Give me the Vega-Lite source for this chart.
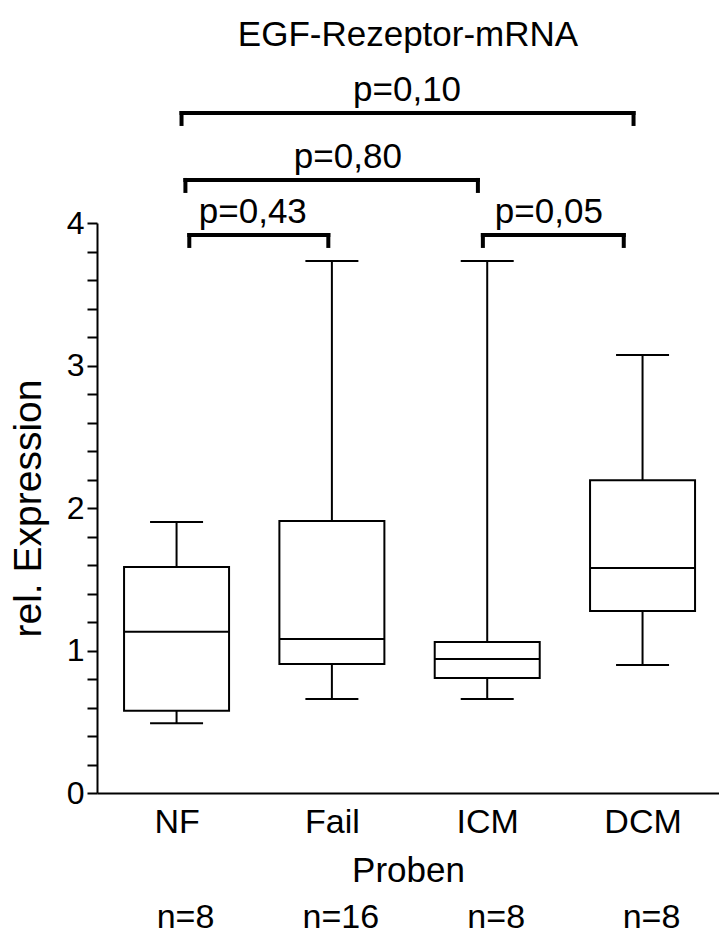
{
  "$schema": "https://vega.github.io/schema/vega-lite/v6.json",
  "width": 622,
  "height": 570,
  "autosize": {"type": "none"},
  "padding": {"left": 97, "top": 223, "right": 0, "bottom": 143},
  "background": "white",
  "config": {
    "font": "Liberation Sans",
    "view": {"stroke": null},
    "axis": {"grid": false, "labelOverlap": false, "labelColor": "black", "titleColor": "black", "domainColor": "black", "tickColor": "black", "labelFont": "Liberation Sans", "titleFont": "Liberation Sans", "titleFontWeight": "normal"}
  },
  "title": {"text": "EGF-Rezeptor-mRNA", "fontSize": 35, "fontWeight": "normal", "font": "Liberation Sans", "color": "black", "anchor": "middle", "offset": 20},
  "datasets": {
    "boxes": [
      {"group": "NF", "pos": 1, "n": "n=8", "min": 0.49, "q1": 0.578, "median": 1.132, "q3": 1.586, "max": 1.902},
      {"group": "Fail", "pos": 2, "n": "n=16", "min": 0.66, "q1": 0.905, "median": 1.081, "q3": 1.909, "max": 3.733},
      {"group": "ICM", "pos": 3, "n": "n=8", "min": 0.66, "q1": 0.807, "median": 0.94, "q3": 1.06, "max": 3.733},
      {"group": "DCM", "pos": 4, "n": "n=8", "min": 0.898, "q1": 1.277, "median": 1.579, "q3": 2.194, "max": 3.074}
    ],
    "brackets": [
      {"label": "p=0,10", "from": 1.032, "to": 3.942, "level": 4.772, "tip": 4.695, "mid": 2.484, "textY": 4.856},
      {"label": "p=0,80", "from": 1.057, "to": 2.94, "level": 4.302, "tip": 4.225, "mid": 2.103, "textY": 4.386},
      {"label": "p=0,43", "from": 1.082, "to": 1.977, "level": 3.916, "tip": 3.839, "mid": 1.491, "textY": 4.0},
      {"label": "p=0,05", "from": 2.972, "to": 3.879, "level": 3.916, "tip": 3.839, "mid": 3.397, "textY": 4.0}
    ]
  },
  "layer": [
    {
      "data": {"name": "boxes"},
      "mark": {"type": "rule", "color": "black", "strokeWidth": 2},
      "encoding": {
        "x": {"field": "pos", "type": "quantitative", "title": "Proben",
          "scale": {"domain": [0.52, 4.46], "nice": false, "zero": false},
          "axis": {"values": [1, 2, 3, 4], "tickCount": 10, "labelExpr": "['', 'NF', 'Fail', 'ICM', 'DCM'][datum.value]", "ticks": false, "domainWidth": 2, "labelFontSize": 34, "labelPadding": 12, "titleFontSize": 35, "titlePadding": 14, "labelFlush": false, "labelOverlap": false}},
        "y": {"field": "min", "type": "quantitative", "title": "rel. Expression",
          "scale": {"domain": [0, 4], "nice": false},
          "axis": {"values": [0, 0.2, 0.4, 0.6, 0.8, 1, 1.2, 1.4, 1.6, 1.8, 2, 2.2, 2.4, 2.6, 2.8, 3, 3.2, 3.4, 3.6, 3.8, 4], "tickCount": 40, "labelExpr": "datum.value % 1 == 0 ? format(datum.value, 'd') : ''", "labelOverlap": false, "labelFlush": false, "tickSize": 10, "tickWidth": 2, "domainWidth": 2, "labelFontSize": 32, "labelPadding": 3, "titleFontSize": 39, "titlePadding": 18}},
        "y2": {"field": "max"}
      }
    },
    {
      "data": {"name": "boxes"},
      "mark": {"type": "bar", "fill": "white", "stroke": "black", "strokeWidth": 2, "size": 105},
      "encoding": {
        "x": {"field": "pos", "type": "quantitative", "title": "Proben"},
        "y": {"field": "q1", "type": "quantitative", "title": "rel. Expression"},
        "y2": {"field": "q3"}
      }
    },
    {
      "data": {"name": "boxes"},
      "mark": {"type": "tick", "orient": "horizontal", "color": "black", "size": 105, "thickness": 2, "opacity": 1},
      "encoding": {
        "x": {"field": "pos", "type": "quantitative", "title": "Proben"},
        "y": {"field": "median", "type": "quantitative", "title": "rel. Expression"}
      }
    },
    {
      "data": {"name": "boxes"},
      "mark": {"type": "tick", "orient": "horizontal", "color": "black", "size": 53, "thickness": 2, "opacity": 1},
      "encoding": {
        "x": {"field": "pos", "type": "quantitative", "title": "Proben"},
        "y": {"field": "min", "type": "quantitative", "title": "rel. Expression"}
      }
    },
    {
      "data": {"name": "boxes"},
      "mark": {"type": "tick", "orient": "horizontal", "color": "black", "size": 53, "thickness": 2, "opacity": 1},
      "encoding": {
        "x": {"field": "pos", "type": "quantitative", "title": "Proben"},
        "y": {"field": "max", "type": "quantitative", "title": "rel. Expression"}
      }
    },
    {
      "data": {"name": "boxes"},
      "transform": [{"calculate": "-0.95", "as": "nY"}],
      "mark": {"type": "text", "fontSize": 34, "baseline": "alphabetic", "align": "center", "color": "black", "dx": 9},
      "encoding": {
        "x": {"field": "pos", "type": "quantitative", "title": "Proben"},
        "y": {"field": "nY", "type": "quantitative", "title": "rel. Expression"},
        "text": {"field": "n"}
      }
    },
    {
      "data": {"name": "brackets"},
      "mark": {"type": "rule", "color": "black", "strokeWidth": 4, "strokeCap": "square"},
      "encoding": {
        "x": {"field": "from", "type": "quantitative", "title": "Proben"},
        "x2": {"field": "to"},
        "y": {"field": "level", "type": "quantitative", "title": "rel. Expression"}
      }
    },
    {
      "data": {"name": "brackets"},
      "mark": {"type": "rule", "color": "black", "strokeWidth": 4, "strokeCap": "square"},
      "encoding": {
        "x": {"field": "from", "type": "quantitative", "title": "Proben"},
        "y": {"field": "level", "type": "quantitative", "title": "rel. Expression"},
        "y2": {"field": "tip"}
      }
    },
    {
      "data": {"name": "brackets"},
      "mark": {"type": "rule", "color": "black", "strokeWidth": 4, "strokeCap": "square"},
      "encoding": {
        "x": {"field": "to", "type": "quantitative", "title": "Proben"},
        "y": {"field": "level", "type": "quantitative", "title": "rel. Expression"},
        "y2": {"field": "tip"}
      }
    },
    {
      "data": {"name": "brackets"},
      "mark": {"type": "text", "fontSize": 35, "baseline": "alphabetic", "align": "center", "color": "black"},
      "encoding": {
        "x": {"field": "mid", "type": "quantitative", "title": "Proben"},
        "y": {"field": "textY", "type": "quantitative", "title": "rel. Expression"},
        "text": {"field": "label"}
      }
    }
  ]
}
